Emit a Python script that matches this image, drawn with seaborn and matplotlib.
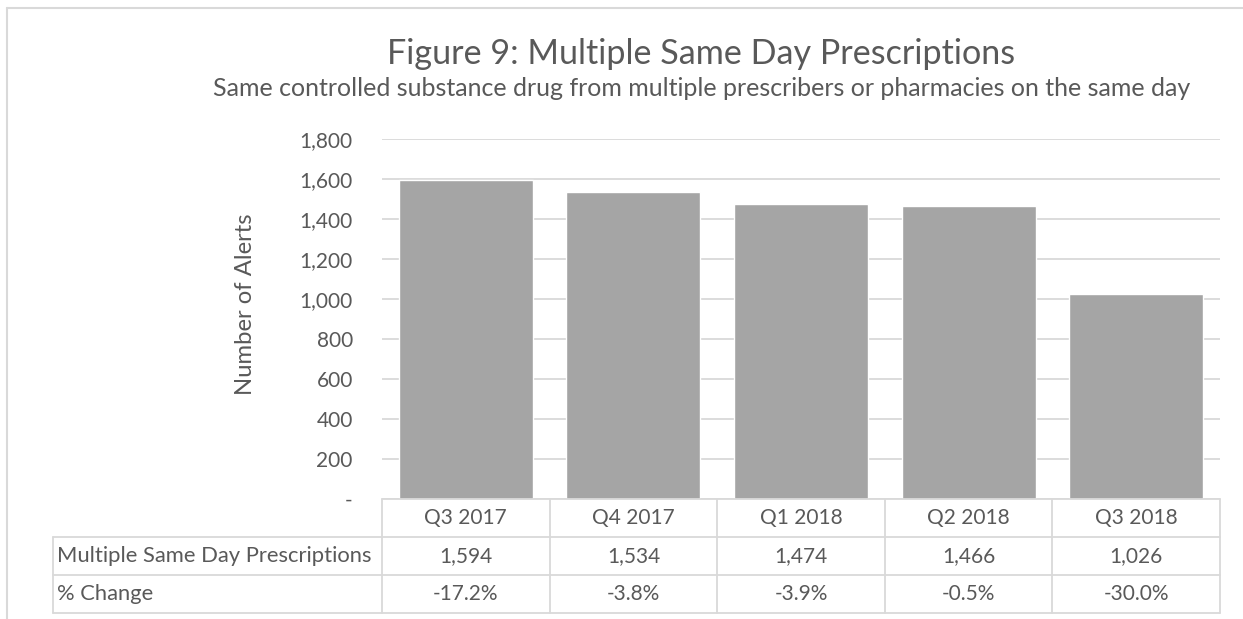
import matplotlib
matplotlib.use("Agg")
import matplotlib.pyplot as plt
from matplotlib.lines import Line2D
import seaborn as sns
import pandas as pd

# data
quarters = ["Q3 2017", "Q4 2017", "Q1 2018", "Q2 2018", "Q3 2018"]
alerts = [1594, 1534, 1474, 1466, 1026]
pct_change = [-17.2, -3.8, -3.9, -0.5, -30.0]
row_labels = ["Multiple Same Day Prescriptions", "% Change"]
y_ticks = [0, 200, 400, 600, 800, 1000, 1200, 1400, 1600, 1800]

TEXT = "#595959"
GRID = "#D9D9D9"
BAR = "#A5A5A5"

sns.set_theme(style="white")
plt.rcParams["font.family"] = ["Lato", "DejaVu Sans"]

W, H = 1243, 619
fig = plt.figure(figsize=(W / 100, H / 100), dpi=100)


def fx(px):
    return px / W


def fy(py):
    return 1 - py / H


# plot area in pixels
left, right, top, bottom = 382, 1220, 139, 499
ax = fig.add_axes([fx(left), fy(bottom), fx(right - left), fy(top) - fy(bottom)])

df = pd.DataFrame({"quarter": quarters, "alerts": alerts})
sns.barplot(data=df, x="quarter", y="alerts", color=BAR, width=0.8,
            saturation=1, ax=ax, zorder=3)
ax.set_ylim(0, 1800)
ax.set_xlim(-0.5, len(quarters) - 0.5)
ax.set_yticks(y_ticks)
ax.set_yticklabels(["-" if v == 0 else f"{v:,}" for v in y_ticks])
ax.yaxis.grid(True, color=GRID, linewidth=1.3, zorder=0)
ax.tick_params(axis="y", length=0, pad=21, labelsize=15, labelcolor=TEXT)
ax.set_xticks([])
ax.set_xlabel("")
ax.set_ylabel("")
for s in ax.spines.values():
    s.set_visible(False)

fig.text(fx(245), fy(304), "Number of Alerts", rotation=90, ha="center",
         va="center", fontsize=17.2, color=TEXT)

# titles
fig.text(fx(701), fy(54), "Figure 9: Multiple Same Day Prescriptions",
         ha="center", va="center", fontsize=24.6, color=TEXT)
fig.text(fx(702), fy(89),
         "Same controlled substance drug from multiple prescribers or pharmacies on the same day",
         ha="center", va="center", fontsize=18, color=TEXT)

# data table below the bars
tab_left, row_h = 53, 38
col_w = (right - left) / len(quarters)
tab = fig.add_axes([0, 0, 1, 1], facecolor="none")
tab.set_xlim(0, W)
tab.set_ylim(H, 0)
tab.axis("off")

rows_y = [bottom, bottom + row_h, bottom + 2 * row_h, bottom + 3 * row_h]
lw = 1.3
# header row (only over the data columns)
tab.plot([left, right], [rows_y[0], rows_y[0]], color=GRID, lw=lw)
for yy in rows_y[1:]:
    tab.plot([tab_left, right], [yy, yy], color=GRID, lw=lw)
tab.plot([tab_left, tab_left], [rows_y[1], rows_y[3]], color=GRID, lw=lw)
for j in range(len(quarters) + 1):
    xx = left + j * col_w
    tab.plot([xx, xx], [rows_y[0], rows_y[3]], color=GRID, lw=lw)

for j, q in enumerate(quarters):
    cx = left + (j + 0.5) * col_w
    tab.text(cx, rows_y[0] + row_h / 2, q, ha="center", va="center",
             fontsize=15, color=TEXT)
    tab.text(cx, rows_y[1] + row_h / 2, f"{alerts[j]:,}", ha="center",
             va="center", fontsize=15, color=TEXT)
    tab.text(cx, rows_y[2] + row_h / 2, f"{pct_change[j]:.1f}%", ha="center",
             va="center", fontsize=15, color=TEXT)
for i, lab in enumerate(row_labels):
    tab.text(tab_left + 4, rows_y[i + 1] + row_h / 2, lab, ha="left",
             va="center", fontsize=15.8, color=TEXT)

# outer frame of the chart area
fig.add_artist(Line2D([fx(7), 1], [fy(8), fy(8)], color=GRID, lw=1.5))
fig.add_artist(Line2D([fx(7), fx(7)], [fy(8), 0], color=GRID, lw=1.5))

fig.savefig("out.png", dpi=100, facecolor="white")
